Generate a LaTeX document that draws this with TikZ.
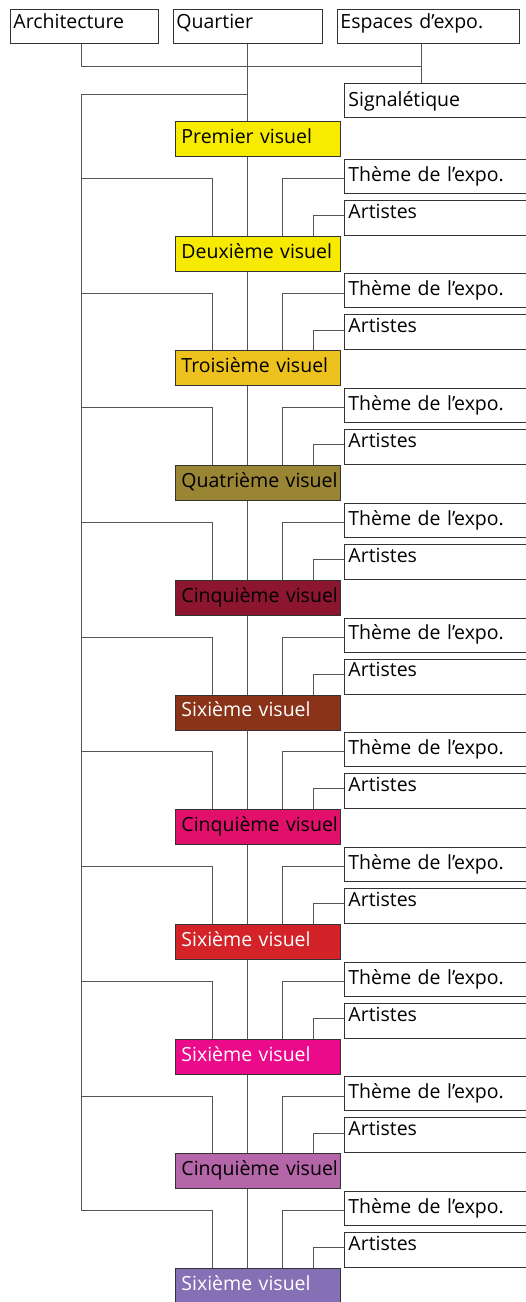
\documentclass[tikz,border=0pt]{standalone}
\usepackage{fontspec}
\setmainfont{Open Sans}
\usepackage{tikz}
\usetikzlibrary{calc}
\definecolor{vis1}{HTML}{F7EC00}
\definecolor{vis2}{HTML}{F5EA00}
\definecolor{vis3}{HTML}{EEC21E}
\definecolor{vis4}{HTML}{9A8535}
\definecolor{vis5}{HTML}{8C1530}
\definecolor{vis6}{HTML}{8A3318}
\definecolor{vis7}{HTML}{E1106B}
\definecolor{vis8}{HTML}{D32228}
\definecolor{vis9}{HTML}{EA0A8A}
\definecolor{vis10}{HTML}{B566A8}
\definecolor{vis11}{HTML}{8570B5}
\definecolor{linkgray}{HTML}{555555}
\tikzset{
  basebox/.style={rectangle,draw=black!80,line width=0.9pt,anchor=north west,inner ysep=0pt,
    align=left,font=\fontsize{19.5}{22}\selectfont},
  topbox/.style={basebox,fill=white,inner xsep=3pt,text width=#1-6pt,text height=19pt,text depth=15pt},
  sigbox/.style={basebox,fill=white,inner xsep=4pt,text width=200pt,text height=23pt,text depth=11pt},
  themebox/.style={basebox,fill=white,inner xsep=4pt,text width=200pt,text height=22pt,text depth=12pt},
  artbox/.style={basebox,fill=white,inner xsep=4pt,text width=200pt,text height=18pt,text depth=17pt},
  visual/.style={basebox,fill=#1,inner xsep=6pt,text width=153pt,text height=22pt,text depth=13pt},
  link/.style={draw=linkgray,line width=1pt}
}
\begin{document}
\begin{tikzpicture}[x=1pt,y=-1pt]
\clip (0,0) rectangle (526,1302);
\node[topbox=148pt] (arch) at (10,9) {Architecture};
\node[topbox=149pt] (quart) at (173,9) {Quartier};
\node[topbox=182pt] (espaces) at (337,9) {Espaces d’expo.};
\node[sigbox] (sig) at (344,83) {Signalétique};
\node[visual=vis1] (v1) at (175,121) {\mbox{Premier visuel}};
\coordinate (spine) at (quart.south);
\coordinate (trunk) at (81,94);
\coordinate (bar) at (81,66);
\coordinate (sigdrop) at (421,83);
\coordinate (lcol) at (212,0);
\coordinate (tcol) at (282,0);
\coordinate (acol) at (313,0);
\draw[link] (arch.south -| bar) -- (bar) -- (bar -| sigdrop);
\draw[link] (espaces.south -| sigdrop) -- (sigdrop);
\draw[link] (spine) -- (spine |- v1.north);
\foreach \k/\prev/\txt/\tc in {2/1/Deuxième visuel/black,3/2/Troisième visuel/black,
    4/3/Quatrième visuel/black,5/4/Cinquième visuel/black,6/5/Sixième visuel/white,
    7/6/Cinquième visuel/black,8/7/Sixième visuel/white,9/8/Sixième visuel/white,
    10/9/Cinquième visuel/black,11/10/Sixième visuel/white}{
  \pgfmathsetmacro\T{121+(\k-1)*114.7}
  \node[themebox] (th\k) at (344,\T-77) {Thème de l’expo.};
  \node[artbox] (ar\k) at (344,\T-36) {Artistes};
  \node[visual=vis\k,text=\tc] (v\k) at (175,\T) {\mbox{\txt}};
  \draw[link] (spine |- v\prev.south) -- (spine |- v\k.north);
  \draw[link] (trunk |- th\k.mid west) -| (lcol |- v\k.north);
  \draw[link] (th\k.mid west) -| (tcol |- v\k.north);
  \draw[link] (ar\k.mid west) -| (acol |- v\k.north);
}
\draw[link] (spine |- trunk) -- (trunk) -- (trunk |- th11.mid west);
\end{tikzpicture}
\end{document}
